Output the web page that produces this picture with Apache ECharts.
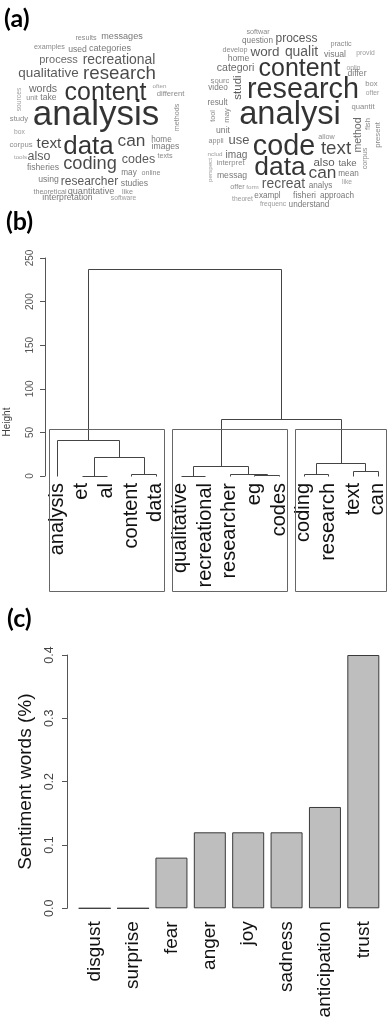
<!DOCTYPE html>
<html><head><meta charset="utf-8">
<script src="https://cdn.jsdelivr.net/npm/echarts@6/dist/echarts.min.js"></script>
<style>html,body{margin:0;padding:0;background:#fff}#c{width:391px;height:1024px}</style>
</head><body><div id="c"></div>
<script>
// ---------- (a) word clouds: words and their relative frequencies ----------
const cloudAWords = ['results','messages','examples','used','categories','process','recreational','qualitative','research','words','unit','take','content','often','different','sources','analysis','study','methods','box','corpus','text','data','can','home','images','texts','tools','also','codes','coding','fisheries','may','online','using','researcher','studies','theoretical','quantitative','like','interpretation','software'];
const cloudAFreq  = [15,19,15,18,19,23,29,28,39,22,15,18,52,13,16,14,73,16,15,14,16,32,54,36,17,18,15,13,26,26,38,18,17,15,18,25,18,15,19,15,18,14];
const cloudBWords = ['softwar','question','process','practic','develop','word','qualit','visual','provid','home','categori','content','onlin','differ','sourc','studi','video','box','research','ofter','result','tool','may','analysi','quantit','method','fish','present','unit','allow','appli','use','code','text','corpus','nclud','imag','perspect','interpret','data','also','take','messag','can','mean','like','offer','form','recreat','analys','theoret','exampl','fisheri','approach','frequenc','understand'];
const cloudBFreq  = [15,17,25,15,15,28,29,18,14,18,22,52,14,18,16,24,17,16,60,14,17,15,16,68,16,22,16,16,18,15,15,27,60,39,15,13,21,13,16,55,24,20,18,36,17,14,15,13,29,17,14,17,18,17,14,17];

// word-cloud layout (placement only: centre x, centre y, rotation)
const cloudALayout = [[86,38,0],[122,36.5,0],[49.5,47.5,0],[77.5,49.5,0],[110,48,0],[58.5,60,0],[119,60,0],[48.5,73.5,0],[119.5,74,0],[43,89,0],[32,98,0],[48.5,98,0],[105.5,93,0],[159.5,86,0],[170.5,94,0],[19,99.5,90],[96,115,0],[19,119,0],[177,117.5,90],[19.5,132,0],[21,145,0],[49,144,0],[88.5,147,0],[131.5,141.5,0],[161.5,140,0],[165.5,147,0],[165,156,0],[20.5,157,0],[39,157,0],[138.5,160,0],[90,164,0],[43,168,0],[129,173,0],[151,173,0],[48.5,180,0],[89.5,182,0],[134.5,184,0],[50,192,0],[91,191,0],[127.5,192,0],[67.5,198,0],[123.5,198,0]];
const cloudBLayout = [[258,32,0],[257.5,41,0],[296.5,39,0],[341,44,0],[235,50,0],[265,52,0],[301.5,52,0],[335,55,0],[365.5,53,0],[238.5,58.5,0],[235.5,68,0],[299.5,69,0],[353.5,68,0],[357,74,0],[220,81,0],[238,87.5,90],[218,88,0],[371.5,84,0],[303,90,0],[372.5,93,0],[217.5,103,0],[213,116,90],[227,115.5,90],[290,115,0],[363,107,0],[358.5,135,90],[367.5,124,90],[377.5,135,90],[223,131,0],[326.5,137,0],[216,141,0],[239,140,0],[284,147,0],[336,149,0],[365.5,158.5,90],[215,154,0],[236.5,155,0],[210.5,170,90],[230.5,163,0],[280,168,0],[324,163,0],[347.5,163,0],[232,176,0],[322.5,173,0],[348.5,174,0],[347,182,0],[237.5,187,0],[252.5,187,0],[283.5,184,0],[320.5,186,0],[242.5,199,0],[267.5,196,0],[304.5,196,0],[337,196,0],[273,204,0],[309,204.5,0]];

// ---------- (b) dendrogram ----------
const leafLabels = ['analysis','et','al','content','data','qualitative','recreational','researcher','eg','codes','coding','research','text','can'];
// R hclust style merges: negative = leaf index (1-based), positive = earlier merge
const mergeLeft    = [-2,-9,-4,-6,-8,-11,-13, 1,-1, 4, 6,10, 9];
const mergeRight   = [-3,-10,-5,-7, 2,-12,-14, 3, 8, 5, 7,11,12];
const mergeHeights = [0.5,1.6,1.9,0.5,2.0,1.9,5.7,21.4,41.6,11.4,14.4,65.6,237];
const clusterSizes = [5,5,4];
const heightTicks  = [0,50,100,150,200,250];

// ---------- (c) sentiment bar chart ----------
const sentimentCats = ['disgust','surprise','fear','anger','joy','sadness','anticipation','trust'];
const sentimentVals = [0,0,0.08,0.12,0.12,0.12,0.16,0.40];

// ---------------------------------------------------------------
const FONT = 'Liberation Sans';
function cloudColor(f){
  if (f >= 50) return '#000000';
  if (f >= 30) return '#1c1c1c';
  if (f >= 24) return '#303030';
  if (f >= 20) return '#424242';
  if (f >= 17) return '#555555';
  if (f >= 15) return '#6c6c6c';
  return '#838383';
}
function cloudData(words, freq, layout){
  return words.map((w,i)=>({
    value:[layout[i][0], layout[i][1]],
    label:{show:true, position:'inside', formatter:w, rotate:layout[i][2],
      fontSize: freq[i]*0.5*0.96, color: cloudColor(freq[i]), fontFamily: FONT}
  }));
}

// dendrogram geometry from merges
const nodeX = {}, nodeH = {};
function refX(r){ return r < 0 ? -r : nodeX[r]; }
function refH(r){ return r < 0 ? 0 : nodeH[r]; }
mergeHeights.forEach((h,i)=>{
  const k = i+1;
  nodeX[k] = (refX(mergeLeft[i]) + refX(mergeRight[i]))/2;
  nodeH[k] = h;
});
const sortedH = mergeHeights.slice().sort((a,b)=>b-a);
const nClust = clusterSizes.length;
const boxTop = (sortedH[nClust-2] + sortedH[nClust-1])/2;
const boxBottom = -132; // lower edge of the plotting region (below the leaf labels)
const boxes = []; let start = 1;
clusterSizes.forEach(s=>{ boxes.push([start-0.34, start+s-1+0.33]); start += s; });

const chart = echarts.init(document.getElementById('c'), null, {renderer:'canvas'});
const axisGray = '#555';
chart.setOption({
  animation:false,
  backgroundColor:'#fff',
  grid:[
    {left:0, top:0, width:391, height:1024},
    {left:45, top:258, width:345, height:218},
    {left:75.5, top:655, width:307, height:253.3}
  ],
  xAxis:[
    {gridIndex:0, type:'value', min:0, max:391, show:false},
    {gridIndex:1, type:'value', min:0.5, max:14.5, show:false},
    {gridIndex:1, type:'category', data:leafLabels, position:'bottom',
      axisLine:{show:false}, axisTick:{show:false}, splitLine:{show:false},
      axisLabel:{interval:0, rotate:90, fontSize:20, color:'#111', margin:7, fontFamily:FONT}},
    {gridIndex:2, type:'category', data:sentimentCats,
      axisLine:{show:false}, axisTick:{show:false},
      axisLabel:{interval:0, rotate:90, fontSize:19, color:'#111', margin:13, fontFamily:FONT}}
  ],
  yAxis:[
    {gridIndex:0, type:'value', min:0, max:1024, inverse:true, show:false},
    {gridIndex:1, type:'value', min:heightTicks[0], max:heightTicks[heightTicks.length-1], interval:50,
      splitLine:{show:false},
      axisLine:{show:true, lineStyle:{color:axisGray}},
      axisTick:{show:true, length:5, lineStyle:{color:axisGray}},
      axisLabel:{rotate:90, fontSize:10, color:'#555', margin:10, fontFamily:FONT}},
    {gridIndex:2, type:'value', min:0, max:0.4, interval:0.1, offset:8.5,
      name:'Sentiment words (%)', nameLocation:'middle', nameGap:31,
      nameTextStyle:{fontSize:19, color:'#111', fontFamily:FONT},
      splitLine:{show:false},
      axisLine:{show:true, lineStyle:{color:axisGray}},
      axisTick:{show:true, length:5, lineStyle:{color:axisGray}},
      axisLabel:{rotate:90, fontSize:12.5, color:'#444', margin:11, fontFamily:FONT,
        formatter:v=>v.toFixed(1)}}
  ],
  series:[
    {type:'scatter', xAxisIndex:0, yAxisIndex:0, symbolSize:0, silent:true,
      data:cloudData(cloudAWords, cloudAFreq, cloudALayout)},
    {type:'scatter', xAxisIndex:0, yAxisIndex:0, symbolSize:0, silent:true,
      data:cloudData(cloudBWords, cloudBFreq, cloudBLayout)},
    {type:'custom', xAxisIndex:1, yAxisIndex:1, clip:false, silent:true,
      data: mergeHeights.map((h,i)=>[i+1, h]),
      encode:{x:0, y:1},
      renderItem:(params, api)=>{
        const k = params.dataIndex;
        const l = mergeLeft[k], r = mergeRight[k], h = mergeHeights[k];
        const pts = [
          api.coord([refX(l), refH(l)]),
          api.coord([refX(l), h]),
          api.coord([refX(r), h]),
          api.coord([refX(r), refH(r)])
        ].map(p=>[Math.round(p[0])+0.5, Math.round(p[1])+0.5]);
        return {type:'polyline', shape:{points:pts}, style:{stroke:'#444', lineWidth:1, fill:null}};
      }},
    {type:'custom', xAxisIndex:1, yAxisIndex:1, clip:false, silent:true,
      data: boxes.map(b=>[b[0], boxTop]),
      encode:{x:0, y:1},
      renderItem:(params, api)=>{
        const b = boxes[params.dataIndex];
        const p1 = api.coord([b[0], boxTop]), p2 = api.coord([b[1], boxBottom]);
        const x1 = Math.round(p1[0])+0.5, y1 = Math.round(p1[1])+0.5;
        const x2 = Math.round(p2[0])+0.5, y2 = Math.round(p2[1])+0.5;
        return {type:'rect', shape:{x:x1, y:y1, width:x2-x1, height:y2-y1},
          style:{stroke:'#666', lineWidth:1, fill:null}};
      }},
    {type:'bar', xAxisIndex:3, yAxisIndex:2, barWidth:32, silent:true,
      data: sentimentVals,
      itemStyle:{color:'#bebebe', borderColor:'#3a3a3a', borderWidth:1}}
  ],
  graphic:[
    {type:'text', x:4, y:6, style:{text:'(a)', font:'bold 25px Lato', fill:'#000'}},
    {type:'text', x:6, y:209, style:{text:'(b)', font:'bold 25px Lato', fill:'#000'}},
    {type:'text', x:7, y:606, style:{text:'(c)', font:'bold 25px Lato', fill:'#000'}},
    {type:'text', x:7, y:422, rotation:Math.PI/2,
      style:{text:'Height', font:'10px "Liberation Sans"', fill:'#444', align:'center', verticalAlign:'middle'}}
  ]
});
</script></body></html>
